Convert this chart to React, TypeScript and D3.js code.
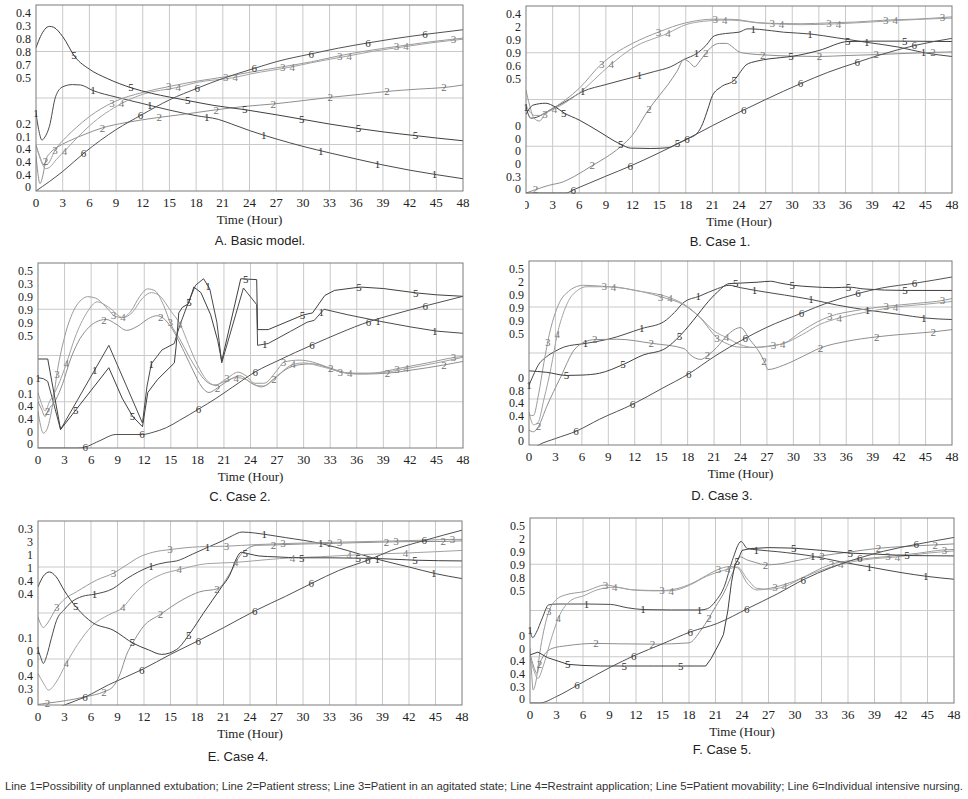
import React from "react";
import * as d3 from "d3";

type Pt = [number, number];

// ---------- shared axis data ----------
const HOURS: number[] = [0, 3, 6, 9, 12, 15, 18, 21, 24, 27, 30, 33, 36, 39, 42, 45, 48];
const LINE_IDS: string[] = ["1", "2", "3", "4", "5", "6"];
const GRID_Y: number[] = [0.25, 0.5, 0.75];
const CAPTIONS: string[] = ["A. Basic model.", "B. Case 1.", "C. Case 2.", "D. Case 3.", "E. Case 4.", "F. Case 5."];
const X_TITLE = "Time (Hour)";
const FOOTNOTE =
  "Line 1=Possibility of unplanned extubation; Line 2=Patient stress; Line 3=Patient in an agitated state; Line 4=Restraint application; Line 5=Patient movability; Line 6=Individual intensive nursing.";

// ---------- Panel A: Basic model (value = share of plot height) ----------
const A_L1: Pt[] = [[0,0.418],[0.3,0.33],[0.67,0.274],[1.0,0.29],[1.5,0.346],[2.2,0.507],[3,0.56],[4.1,0.572],[5,0.57],[6.4,0.54],[9,0.505],[12,0.47],[15,0.435],[18,0.405],[20.5,0.385],[22,0.36],[24,0.325],[27,0.28],[30,0.24],[33,0.205],[36,0.172],[39,0.14],[42,0.112],[45,0.088],[48,0.066]];
const A_L2: Pt[] = [[0,0.19],[0.2,0.1],[0.45,0.04],[0.8,0.09],[1.1,0.167],[1.6,0.205],[2.5,0.238],[4,0.275],[5.5,0.305],[7.5,0.34],[10,0.367],[13.9,0.396],[17,0.415],[20.3,0.437],[23.5,0.455],[26.7,0.468],[30,0.486],[33.2,0.504],[36.5,0.52],[39.6,0.536],[43,0.548],[46,0.557],[48,0.57]];
const A_L3: Pt[] = [[0,0.247],[0.4,0.19],[0.9,0.14],[1.3,0.145],[2.2,0.224],[3.4,0.29],[4.5,0.34],[6,0.4],[8.8,0.48],[12,0.53],[15,0.562],[18,0.59],[21.4,0.615],[24,0.638],[28,0.67],[31,0.695],[34.2,0.728],[37,0.752],[40.7,0.778],[44,0.8],[47,0.817],[48,0.822]];
const A_L4: Pt[] = [[0,0.247],[0.5,0.17],[1.1,0.12],[1.6,0.13],[2.3,0.17],[3.4,0.224],[4.5,0.28],[6,0.35],[9.6,0.47],[12,0.52],[16,0.558],[18,0.583],[22.4,0.611],[24,0.628],[28.8,0.668],[31,0.69],[35.2,0.727],[38,0.752],[41.6,0.777],[45,0.8],[48,0.816]];
const A_L5: Pt[] = [[0,0.77],[0.5,0.83],[1,0.87],[1.5,0.885],[2,0.88],[3,0.83],[4.4,0.72],[6,0.655],[8,0.605],[10.7,0.555],[13,0.525],[15,0.505],[17.1,0.486],[20,0.46],[23.5,0.437],[27,0.41],[30,0.385],[33,0.36],[36.4,0.335],[39,0.318],[42.8,0.297],[45,0.285],[48,0.27]];
const A_L6: Pt[] = [[0,0],[3,0.105],[5.5,0.208],[9,0.33],[11.9,0.41],[15,0.49],[18.2,0.554],[21,0.605],[24.6,0.66],[27,0.695],[31,0.738],[34,0.768],[37.3,0.796],[40,0.817],[43.9,0.843],[48,0.867]];
const A_YTOP: string[] = ["0.4", "0.3", "0.8", "0.8", "0.7", "0.5"];
const A_YBOT: string[] = ["0.2", "0.1", "0.4", "0.4", "0.4", "0"];

// ---------- Panel B: Case 1 ----------
const B_L1: Pt[] = [[0,0.46],[0.55,0.4],[1.2,0.405],[2.2,0.43],[3.3,0.46],[4.5,0.49],[6.4,0.543],[9,0.58],[12.8,0.628],[14.5,0.65],[16.3,0.675],[17.8,0.714],[19.2,0.745],[20.3,0.79],[21.2,0.84],[22.5,0.853],[24,0.86],[25,0.878],[26.3,0.875],[29,0.86],[32.1,0.85],[35,0.83],[38.5,0.805],[42,0.78],[44.9,0.75],[48,0.73]];
const B_L2: Pt[] = [[0,0],[1.07,0.018],[2.5,0.04],[4.2,0.06],[5.5,0.09],[7.4,0.145],[9,0.19],[10.6,0.245],[12,0.31],[13.8,0.445],[15,0.52],[16,0.58],[17,0.65],[17.8,0.714],[18.4,0.7],[19,0.675],[19.5,0.7],[20.2,0.745],[21,0.785],[21.8,0.8],[22.6,0.8],[23.3,0.78],[24,0.755],[25,0.745],[27,0.738],[30,0.732],[33.1,0.73],[36,0.735],[39.5,0.74],[42,0.745],[45.9,0.752],[48,0.755]];
const B_L3: Pt[] = [[0,0.55],[0.4,0.47],[0.9,0.4],[1.5,0.385],[2.2,0.426],[3.3,0.46],[4.5,0.5],[6,0.56],[8.5,0.69],[10,0.745],[12,0.8],[15,0.862],[18,0.91],[21.4,0.93],[23.5,0.928],[26,0.912],[28,0.907],[31,0.905],[34.3,0.91],[37,0.914],[40.7,0.925],[44,0.93],[48,0.942]];
const B_L4: Pt[] = [[0,0.47],[0.5,0.43],[1,0.415],[1.6,0.415],[2.3,0.43],[3.2,0.45],[4.5,0.485],[6,0.535],[9.5,0.685],[12,0.775],[16,0.855],[18,0.9],[20,0.918],[22.4,0.925],[24,0.922],[26,0.91],[28.8,0.903],[31,0.9],[35.2,0.905],[38,0.912],[41.6,0.922],[45,0.93],[48,0.935]];
const B_L5: Pt[] = [[0,0.42],[0.8,0.47],[2.2,0.48],[3.3,0.46],[4.3,0.428],[6,0.39],[8,0.335],[10.7,0.26],[11.8,0.24],[14,0.238],[16,0.242],[17.1,0.265],[18.2,0.29],[19.3,0.32],[19.9,0.37],[20.5,0.45],[21,0.52],[22,0.568],[23.5,0.605],[24.2,0.65],[24.8,0.685],[26,0.705],[27.5,0.718],[29.9,0.73],[33,0.762],[36.3,0.81],[39,0.812],[42.7,0.812],[48,0.81]];
const B_L6: Pt[] = [[0,0],[4.5,0],[5.4,0.018],[7,0.05],[9,0.09],[11.8,0.145],[15,0.215],[18.2,0.29],[21,0.36],[24.5,0.443],[27,0.5],[31,0.586],[34,0.645],[37.4,0.7],[40,0.74],[43.9,0.79],[48,0.827]];
const B_YTOP: string[] = ["0.4", "2", "0.9", "0.9", "0.6", "0.5"];
const B_YBOT: string[] = ["0", "0", "0", "0", "0.3", "0"];

// ---------- Panel C: Case 2 ----------
const C_L1: Pt[] = [[0,0.38],[0.6,0.375],[1.1,0.36],[2.55,0.1],[8,0.555],[11.8,0.135],[12.3,0.33],[12.8,0.455],[14,0.53],[15.4,0.565],[15.6,0.6],[16,0.66],[17,0.79],[17.8,0.88],[18.7,0.915],[19.4,0.86],[20.2,0.68],[20.75,0.46],[23.2,0.865],[24.7,0.775],[24.8,0.555],[26,0.565],[28.5,0.63],[30.4,0.68],[31.2,0.69],[32.3,0.75],[35,0.72],[38.6,0.685],[42,0.655],[45,0.632],[48,0.62]];
const C_L2: Pt[] = [[0,0.25],[0.4,0.21],[0.8,0.17],[1.1,0.2],[2,0.26],[2.8,0.35],[3.6,0.47],[4.5,0.57],[5.5,0.64],[6.5,0.68],[7.7,0.695],[8.8,0.67],[10,0.636],[11.3,0.66],[12.5,0.7],[13.4,0.715],[14.2,0.7],[15,0.655],[16.5,0.52],[17.5,0.42],[18.5,0.33],[19.3,0.3],[20.3,0.326],[21.5,0.365],[22.8,0.39],[24,0.355],[25.2,0.33],[26.7,0.375],[28,0.425],[29.5,0.45],[31,0.455],[33.1,0.43],[35,0.405],[37,0.4],[39.6,0.405],[42,0.42],[46,0.45],[48,0.468]];
const C_L3: Pt[] = [[0,0.2],[0.3,0.12],[0.6,0.08],[1,0.1],[1.6,0.22],[2.2,0.42],[3,0.6],[4,0.74],[5,0.805],[5.6,0.818],[6.5,0.81],[8,0.745],[8.6,0.715],[9.5,0.705],[10.5,0.74],[11.5,0.82],[12.4,0.86],[13.2,0.85],[14.2,0.77],[15,0.67],[16,0.59],[17,0.5],[18,0.42],[19,0.36],[20,0.34],[21.3,0.375],[22.6,0.41],[23.5,0.39],[24.5,0.35],[25.5,0.35],[27,0.42],[27.8,0.465],[29.5,0.475],[31,0.465],[32.5,0.44],[34.2,0.41],[36,0.4],[38,0.405],[40.7,0.43],[44,0.46],[47.1,0.49],[48,0.495]];
const C_L4: Pt[] = [[0,0.3],[0.4,0.24],[0.8,0.2],[1.3,0.25],[2.2,0.33],[3.2,0.456],[4.2,0.6],[5.5,0.73],[6.7,0.79],[8,0.76],[9.6,0.705],[10.6,0.73],[11.8,0.81],[12.8,0.84],[13.8,0.82],[15,0.74],[16.1,0.665],[17,0.56],[18,0.45],[19,0.37],[20,0.34],[21.3,0.365],[22.4,0.38],[23.5,0.37],[24.5,0.34],[25.5,0.335],[27,0.39],[28.8,0.452],[30,0.46],[32,0.44],[35.3,0.405],[38,0.405],[41.7,0.43],[45,0.46],[48,0.49]];
const C_L5: Pt[] = [[0,0.481],[1.1,0.481],[2.55,0.1],[8,0.434],[9.5,0.27],[10.7,0.17],[11.8,0.115],[12.4,0.3],[13.5,0.37],[15.4,0.46],[15.6,0.55],[15.9,0.73],[16.3,0.76],[17,0.78],[17.6,0.87],[18.4,0.84],[19.5,0.72],[20.3,0.58],[20.75,0.47],[22.9,0.915],[24.7,0.91],[24.8,0.64],[26,0.64],[28,0.68],[30,0.72],[31,0.73],[32.4,0.825],[33.5,0.852],[36.4,0.87],[39,0.862],[42.8,0.838],[45,0.828],[48,0.82]];
const C_L6: Pt[] = [[0,0],[4.5,0],[5.3,0.005],[7,0.04],[8.8,0.073],[11.8,0.073],[13,0.085],[14.5,0.11],[16,0.15],[18.3,0.215],[20,0.265],[22,0.33],[24.7,0.416],[27,0.47],[31.1,0.56],[34,0.62],[37.5,0.685],[40,0.72],[43.9,0.77],[48,0.82]];
const C_YTOP: string[] = ["0.5", "0.3", "0.9", "0.9", "0.9", "0.5"];
const C_YBOT: string[] = ["0", "0.1", "0.4", "0.4", "0", "0"];

// ---------- Panel D: Case 3 ----------
const D_L1: Pt[] = [[0,0.325],[0.5,0.38],[1,0.43],[2,0.48],[3,0.51],[4,0.533],[6.4,0.552],[9,0.575],[12.8,0.633],[15.3,0.67],[16.5,0.72],[17.6,0.777],[19.3,0.808],[21.4,0.85],[22.7,0.868],[24,0.855],[25.7,0.84],[29,0.815],[32.1,0.79],[35,0.76],[38.6,0.732],[42,0.71],[45,0.69],[48,0.682]];
const D_L2: Pt[] = [[0,0.081],[0.5,0.072],[1.07,0.1],[2,0.208],[3.6,0.37],[5.1,0.515],[6.3,0.56],[7.5,0.573],[10,0.575],[14,0.552],[17.6,0.524],[18.3,0.49],[19.5,0.465],[20.3,0.488],[21.3,0.53],[22.5,0.597],[24,0.638],[25.1,0.57],[26.2,0.5],[26.8,0.443],[27.1,0.41],[28.9,0.434],[31,0.48],[33.1,0.528],[36,0.563],[39.5,0.588],[42,0.6],[45.9,0.615],[48,0.627]];
const D_L3: Pt[] = [[0,0.163],[0.5,0.16],[1.1,0.28],[1.7,0.45],[2.3,0.6],[3,0.72],[3.6,0.787],[4.5,0.835],[5.1,0.855],[6.2,0.868],[8.5,0.862],[11,0.85],[15,0.805],[17.6,0.76],[19.5,0.688],[21.3,0.584],[22.5,0.55],[23.6,0.533],[25,0.53],[27.8,0.542],[28.9,0.552],[31,0.62],[32.7,0.669],[34.2,0.7],[37,0.73],[40.6,0.754],[44,0.77],[47,0.786],[48,0.796]];
const D_L4: Pt[] = [[0,0.18],[0.5,0.11],[1,0.12],[1.7,0.25],[2.5,0.42],[3.2,0.6],[4,0.73],[4.5,0.785],[5.5,0.84],[6.5,0.86],[9.4,0.86],[12,0.84],[16,0.8],[17.6,0.765],[19.5,0.69],[21,0.62],[22.4,0.584],[24,0.545],[25.5,0.53],[28.8,0.55],[31,0.6],[33,0.655],[35.2,0.69],[38,0.72],[41.6,0.75],[45,0.765],[48,0.78]];
const D_L5: Pt[] = [[0,0.403],[2,0.395],[4.3,0.378],[6,0.38],[8,0.39],[10.8,0.44],[13,0.49],[15.3,0.52],[16.3,0.555],[17.2,0.597],[19.1,0.705],[20,0.76],[21.4,0.832],[22.7,0.877],[24,0.88],[26,0.885],[27.4,0.89],[28.5,0.88],[30,0.868],[32,0.86],[34.6,0.855],[36.3,0.858],[38,0.848],[42.7,0.84],[48,0.84]];
const D_L6: Pt[] = [[0,-0.035],[1.1,0],[3,0.035],[5.4,0.076],[8,0.14],[11.8,0.222],[15,0.305],[18.2,0.389],[21,0.48],[24.5,0.579],[27,0.64],[31,0.718],[34,0.775],[37.3,0.823],[40,0.853],[43.9,0.88],[48,0.913]];
const D_YTOP: string[] = ["0.5", "2", "0.9", "0.9", "0.9", "0.5"];
const D_YBOT: string[] = ["0", "0.8", "0.4", "0.4", "0", "0"];

// ---------- Panel E: Case 4 ----------
const E_L1: Pt[] = [[0,0.298],[0.3,0.26],[0.6,0.226],[1,0.27],[1.5,0.36],[2.1,0.46],[3,0.52],[3.8,0.56],[5,0.59],[6.4,0.602],[8.5,0.633],[10,0.685],[12.8,0.754],[14.5,0.775],[15.7,0.783],[17.5,0.82],[19.3,0.859],[21,0.895],[22,0.92],[23.1,0.94],[24.5,0.935],[25.6,0.928],[28,0.91],[32.1,0.877],[35,0.84],[38.6,0.79],[42,0.75],[45,0.714],[48,0.687]];
const E_L2: Pt[] = [[0,0.003],[1.07,0.01],[3.2,0.024],[5.4,0.045],[7.47,0.072],[8.5,0.1],[9.3,0.17],[10,0.27],[11,0.36],[11.9,0.425],[13.9,0.494],[16.4,0.573],[18.3,0.615],[20.4,0.633],[21.7,0.714],[23,0.82],[24.8,0.868],[26.7,0.87],[30,0.875],[33.1,0.878],[36,0.882],[39.5,0.886],[42,0.888],[45.9,0.889],[48,0.892]];
const E_L3: Pt[] = [[0,0.479],[0.3,0.44],[0.6,0.421],[1,0.44],[2.13,0.53],[3,0.575],[4.35,0.615],[6.6,0.678],[8.6,0.718],[10,0.76],[11.5,0.805],[13,0.83],[15,0.845],[18.3,0.86],[21.3,0.863],[24.8,0.872],[27.7,0.877],[30,0.88],[34.1,0.885],[37,0.888],[40.5,0.892],[44,0.896],[46.9,0.9],[48,0.9]];
const E_L4: Pt[] = [[0,0.172],[0.6,0.12],[1.2,0.081],[2,0.12],[3.2,0.226],[4.5,0.33],[6.2,0.434],[8,0.49],[9.6,0.53],[11,0.61],[11.9,0.651],[14,0.71],[16,0.736],[19.1,0.768],[22.4,0.775],[25.9,0.79],[28.8,0.8],[32,0.806],[35.2,0.814],[38,0.82],[41.6,0.826],[45,0.833],[48,0.84]];
const E_L5: Pt[] = [[0,0.642],[0.6,0.7],[1.3,0.723],[2,0.7],[3,0.62],[4.35,0.53],[6.2,0.447],[8.5,0.407],[10.8,0.335],[12.5,0.3],[14,0.275],[15.7,0.302],[17.2,0.389],[18.7,0.497],[20.8,0.642],[21.7,0.705],[22.5,0.8],[23,0.83],[24,0.82],[25,0.81],[27,0.805],[29.7,0.8],[33,0.8],[36.3,0.798],[39,0.795],[42.7,0.787],[48,0.783]];
const E_L6: Pt[] = [[0,-0.06],[3,0],[5.4,0.045],[8,0.11],[11.8,0.193],[15,0.275],[18.3,0.353],[21,0.42],[24.7,0.515],[28,0.59],[31.1,0.664],[34,0.73],[37.5,0.79],[40,0.84],[43.8,0.895],[48,0.95]];
const E_YTOP: string[] = ["0.3", "3", "1", "1", "0.4", "0.4"];
const E_YBOT: string[] = ["0.1", "0", "0", "0.4", "0.3", "0"];

// ---------- Panel F: Case 5 ----------
const F_L1: Pt[] = [[0,0.395],[0.3,0.353],[0.7,0.38],[1.4,0.46],[2.1,0.53],[3,0.535],[6.5,0.535],[9.1,0.533],[11,0.515],[12.9,0.505],[16,0.503],[19.3,0.503],[20.1,0.51],[21,0.55],[22,0.63],[22.9,0.77],[23.9,0.873],[24.6,0.835],[25.7,0.828],[28,0.818],[32.2,0.792],[35,0.765],[38.6,0.734],[42,0.705],[45,0.684],[48,0.669]];
const F_L2: Pt[] = [[0,0.268],[0.4,0.2],[0.8,0.16],[1.1,0.215],[2.5,0.295],[4.2,0.31],[7.5,0.322],[10,0.32],[14,0.318],[18,0.325],[19.3,0.39],[20.3,0.463],[21,0.52],[22,0.6],[23,0.71],[23.8,0.79],[24.5,0.775],[25.5,0.76],[26.7,0.747],[28,0.75],[30,0.768],[33.1,0.796],[36,0.815],[39.6,0.837],[42,0.845],[46,0.855],[48,0.86]];
const F_L3: Pt[] = [[0,0.3],[0.2,0.15],[0.35,0.07],[0.6,0.1],[1.2,0.3],[2.13,0.494],[3,0.56],[4,0.584],[6.1,0.602],[8.6,0.638],[10,0.625],[11.8,0.611],[15,0.608],[18.2,0.644],[20,0.69],[21.2,0.72],[22.7,0.738],[23.5,0.73],[24.6,0.647],[25.7,0.611],[27.7,0.626],[30,0.66],[34.1,0.75],[37,0.775],[40.5,0.792],[44,0.81],[46.9,0.828],[48,0.83]];
const F_L4: Pt[] = [[0,0.25],[0.4,0.18],[0.9,0.133],[1.5,0.2],[2.3,0.33],[3.2,0.458],[4.7,0.557],[6.1,0.58],[7.5,0.61],[9.6,0.626],[11.5,0.612],[14,0.606],[16,0.607],[18.2,0.64],[20,0.685],[22.4,0.723],[23.5,0.735],[24.6,0.67],[25.7,0.62],[27,0.615],[28.8,0.629],[31,0.68],[35.2,0.75],[38,0.775],[41.6,0.79],[45,0.81],[48,0.822]];
const F_L5: Pt[] = [[0,0.26],[0.9,0.275],[2,0.245],[4.3,0.209],[6,0.203],[8,0.2],[10.7,0.2],[14,0.2],[17.2,0.2],[19.9,0.2],[20.5,0.24],[21.4,0.32],[21.9,0.37],[22.4,0.5],[22.8,0.65],[23.2,0.75],[23.5,0.77],[24,0.825],[25,0.835],[27,0.84],[29.9,0.837],[33,0.825],[36.3,0.81],[39,0.805],[42.7,0.797],[48,0.795]];
const F_L6: Pt[] = [[0,0],[1.1,0],[3,0.035],[5.4,0.097],[9.2,0.196],[11.8,0.256],[15,0.32],[18.2,0.385],[21.2,0.43],[24.7,0.512],[28,0.59],[31.1,0.67],[34,0.73],[37.5,0.787],[40,0.82],[43.9,0.859],[48,0.895]];
const F_YTOP: string[] = ["0.5", "2", "0.9", "0.9", "0.8", "0.5"];
const F_YBOT: string[] = ["0", "0", "0.4", "0.4", "0.3", "0"];

// ---------- layout & style (not data) ----------
const LAYOUT = [
  { x0: 36, x1: 463, y0: 5, y1: 191, capX: 260, capY: 240, clipFirst: false },
  { x0: 526, x1: 952, y0: 6, y1: 193, capX: 720, capY: 241, clipFirst: true },
  { x0: 38, x1: 463, y0: 263, y1: 448, capX: 240, capY: 496, clipFirst: false },
  { x0: 529, x1: 952, y0: 261, y1: 445, capX: 722, capY: 495, clipFirst: false },
  { x0: 38, x1: 462, y0: 521, y1: 705, capX: 238, capY: 756, clipFirst: false },
  { x0: 530, x1: 954, y0: 518, y1: 703, capX: 722, capY: 749, clipFirst: false },
];
const LINE_COLORS = ["#4a4a4a", "#8e8e8e", "#9a9a9a", "#a2a2a2", "#3f3f3f", "#525252"];
const LABEL_COLORS = ["#333333", "#707070", "#7a7a7a", "#808080", "#2e2e2e", "#3a3a3a"];
const SERIF = "'Liberation Serif', 'Times New Roman', Times, serif";
const SANS = "'Liberation Sans', Arial, Helvetica, sans-serif";
const LABEL_STEP = 6.4;

const PANELS = [
  { lines: [A_L1, A_L2, A_L3, A_L4, A_L5, A_L6], yTop: A_YTOP, yBot: A_YBOT, sharp: [] as number[] },
  { lines: [B_L1, B_L2, B_L3, B_L4, B_L5, B_L6], yTop: B_YTOP, yBot: B_YBOT, sharp: [] as number[] },
  { lines: [C_L1, C_L2, C_L3, C_L4, C_L5, C_L6], yTop: C_YTOP, yBot: C_YBOT, sharp: [0, 4] },
  { lines: [D_L1, D_L2, D_L3, D_L4, D_L5, D_L6], yTop: D_YTOP, yBot: D_YBOT, sharp: [] as number[] },
  { lines: [E_L1, E_L2, E_L3, E_L4, E_L5, E_L6], yTop: E_YTOP, yBot: E_YBOT, sharp: [] as number[] },
  { lines: [F_L1, F_L2, F_L3, F_L4, F_L5, F_L6], yTop: F_YTOP, yBot: F_YBOT, sharp: [4] },
];

const bis = d3.bisector((d: Pt) => d[0]).left;
function valueAt(pts: Pt[], t: number): number {
  const i = bis(pts, t);
  if (i <= 0) return pts[0][1];
  if (i >= pts.length) return pts[pts.length - 1][1];
  const a = pts[i - 1], b = pts[i];
  const f = (t - a[0]) / (b[0] - a[0]);
  return a[1] + f * (b[1] - a[1]);
}

function labelTimes(lineIndex: number): number[] {
  const out: number[] = [];
  for (let t = (lineIndex * LABEL_STEP) / 6; t < 47.5; t += LABEL_STEP) out.push(t);
  return out;
}

function Panel({ idx }: { idx: number }) {
  const L = LAYOUT[idx];
  const P = PANELS[idx];
  const x = d3.scaleLinear().domain([0, 48]).range([L.x0, L.x1]);
  const y = d3.scaleLinear().domain([0, 1]).range([L.y1, L.y0]);
  const smooth = d3.line<Pt>().x((d) => x(d[0])).y((d) => y(d[1])).curve(d3.curveMonotoneX);
  const sharp = d3.line<Pt>().x((d) => x(d[0])).y((d) => y(d[1])).curve(d3.curveLinear);
  const clipId = `plotclip${idx}`;
  const xlabClip = `xlabclip${idx}`;
  const topStep = 13;
  const botStep = 12.6;
  return (
    <g>
      <defs>
        <clipPath id={clipId}>
          <rect x={L.x0} y={L.y0 - 1} width={L.x1 - L.x0} height={L.y1 - L.y0 + 1.5} />
        </clipPath>
        <clipPath id={xlabClip}>
          <rect x={L.clipFirst ? L.x0 - 1 : L.x0 - 20} y={L.y1} width={L.x1 - L.x0 + 40} height={24} />
        </clipPath>
      </defs>
      {HOURS.slice(1, -1).map((h) => (
        <line key={"v" + h} x1={x(h)} x2={x(h)} y1={L.y0} y2={L.y1} stroke="#c9c9c9" strokeWidth={1} />
      ))}
      {GRID_Y.map((g) => (
        <line key={"h" + g} x1={L.x0} x2={L.x1} y1={y(g)} y2={y(g)} stroke="#c9c9c9" strokeWidth={1} />
      ))}
      <g clipPath={`url(#${clipId})`}>
        {P.lines.map((pts, i) => (
          <path
            key={"l" + i}
            d={(P.sharp.includes(i) ? sharp : smooth)(pts) || ""}
            fill="none"
            stroke={LINE_COLORS[i]}
            strokeWidth={1}
          />
        ))}
      </g>
      <rect x={L.x0} y={L.y0} width={L.x1 - L.x0} height={L.y1 - L.y0} fill="none" stroke="#7a7a7a" strokeWidth={1} />
      {P.lines.map((pts, i) =>
        labelTimes(i).map((t) => {
          const v = valueAt(pts, t);
          if (v < -0.01) return null;
          return (
            <text
              key={"n" + i + "_" + t.toFixed(2)}
              x={x(t)}
              y={y(v) + 3.8}
              textAnchor="middle"
              fontFamily={SERIF}
              fontSize={11}
              fill={LABEL_COLORS[i]}
            >
              {LINE_IDS[i]}
            </text>
          );
        })
      )}
      {P.yTop.map((s, i) => (
        <text key={"yt" + i} x={L.x0 - 5} y={L.y0 + 8 + i * topStep + 4.2} textAnchor="end" fontFamily={SERIF} fontSize={12} fill="#222">
          {s}
        </text>
      ))}
      {P.yBot.map((s, i) => (
        <text key={"yb" + i} x={L.x0 - 5} y={L.y1 - 4 - (5 - i) * botStep + 4.2} textAnchor="end" fontFamily={SERIF} fontSize={12} fill="#222">
          {s}
        </text>
      ))}
      <g clipPath={`url(#${xlabClip})`}>
        {HOURS.map((h) => (
          <text key={"x" + h} x={x(h)} y={L.y1 + 11.5 + 4.5} textAnchor="middle" fontFamily={SERIF} fontSize={13} fill="#222">
            {String(h)}
          </text>
        ))}
      </g>
      <text x={(L.x0 + L.x1) / 2} y={L.y1 + 28 + 4.5} textAnchor="middle" fontFamily={SERIF} fontSize={13} fill="#222">
        {X_TITLE}
      </text>
      <text x={L.capX} y={L.capY + 4.8} textAnchor="middle" fontFamily={SANS} fontSize={13} fill="#222">
        {CAPTIONS[idx]}
      </text>
    </g>
  );
}

export default function App() {
  return (
    <svg
      width={968}
      height={799}
      viewBox="0 0 968 799"
      style={{ position: "absolute", left: 0, top: 0, background: "#fff" }}
    >
      <rect x={0} y={0} width={968} height={799} fill="#fff" />
      {LAYOUT.map((_, i) => (
        <Panel key={i} idx={i} />
      ))}
      <text x={5} y={790} fontFamily={SANS} fontSize={11} fill="#333" textLength={958} lengthAdjust="spacingAndGlyphs">
        {FOOTNOTE}
      </text>
    </svg>
  );
}
